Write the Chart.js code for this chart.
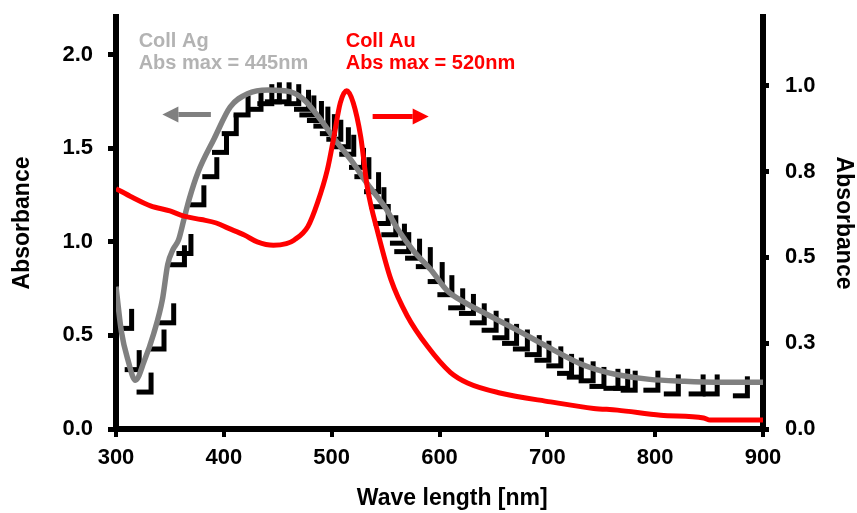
<!DOCTYPE html>
<html>
<head>
<meta charset="utf-8">
<script src="https://cdn.jsdelivr.net/npm/chart.js@4/dist/chart.umd.min.js"></script>
<style>
  body { margin: 0; background: #fff; }
  canvas { display: block; }
</style>
</head>
<body>
<canvas id="spectra" width="857" height="513"></canvas>
<script>
// Coll Ag spectrum (left axis)
const agWave = [300, 305, 311, 318, 326, 335, 343, 348, 353, 358, 363, 368, 376, 391, 406, 422, 441, 462, 474, 490, 505, 520, 533, 550, 561, 576, 592, 607, 622, 638, 668, 700, 730, 750, 765, 795, 826, 856, 900];
const agAbs = [0.76, 0.52, 0.37, 0.26, 0.36, 0.51, 0.69, 0.88, 0.96, 1.01, 1.12, 1.23, 1.37, 1.55, 1.72, 1.79, 1.81, 1.80, 1.76, 1.65, 1.53, 1.42, 1.31, 1.18, 1.07, 0.95, 0.85, 0.74, 0.68, 0.63, 0.54, 0.44, 0.35, 0.31, 0.29, 0.265, 0.255, 0.25, 0.25];

// Coll Au spectrum (right axis)
const auWave = [300, 315, 332, 350, 363, 379, 393, 404, 419, 431, 446, 458, 465, 478, 487, 496, 502, 508, 514, 520, 527, 533, 543, 555, 570, 589, 610, 626, 656, 703, 743, 765, 805, 845, 851, 900];
const auAbs = [0.70, 0.675, 0.65, 0.635, 0.62, 0.61, 0.60, 0.585, 0.565, 0.545, 0.535, 0.54, 0.55, 0.59, 0.66, 0.755, 0.85, 0.95, 0.985, 0.95, 0.85, 0.705, 0.57, 0.435, 0.33, 0.24, 0.165, 0.134, 0.105, 0.079, 0.06, 0.055, 0.04, 0.032, 0.026, 0.026];

// black measured points with error bars (left axis)
const ptWave = [314, 321, 332, 344, 353, 363, 369, 381, 393, 402, 411, 422, 434, 444, 451, 460, 469, 478, 483, 490, 496, 502, 508, 515, 520, 529, 534, 543, 548, 552, 559, 567, 571, 581, 591, 602, 611, 621, 631, 641, 652, 662, 671, 681, 692, 701, 712, 722, 731, 742, 752, 765, 774, 781, 802, 821, 844, 857, 885, 913];
const ptAbs = [0.54, 0.32, 0.20, 0.43, 0.57, 0.88, 0.94, 1.20, 1.35, 1.48, 1.58, 1.68, 1.71, 1.74, 1.75, 1.75, 1.74, 1.71, 1.68, 1.65, 1.62, 1.58, 1.55, 1.51, 1.47, 1.40, 1.35, 1.27, 1.19, 1.10, 1.04, 0.995, 0.95, 0.915, 0.87, 0.79, 0.72, 0.65, 0.62, 0.57, 0.53, 0.49, 0.46, 0.43, 0.40, 0.37, 0.34, 0.30, 0.28, 0.26, 0.23, 0.22, 0.22, 0.21, 0.21, 0.19, 0.19, 0.19, 0.18, 0.17];

const xTicks = [300, 400, 500, 600, 700, 800, 900];
const leftTicks = [0, 0.5, 1.0, 1.5, 2.0];
const rightTicks = [0, 0.25, 0.5, 0.75, 1.0];

const FONT = '"Liberation Sans", Arial, sans-serif';

// error bar mark: corner sits at the point, bar to the left, bar going up
function makeBracket() {
  const c = document.createElement('canvas');
  c.width = 30;
  c.height = 40;
  const g = c.getContext('2d');
  g.fillStyle = '#000';
  g.fillRect(13, 1, 5, 22);
  g.fillRect(1, 18, 17, 5);
  return c;
}

function arrow(ctx, x0, x1, y, color) {
  const dir = Math.sign(x1 - x0);
  const head = 16;
  ctx.strokeStyle = color;
  ctx.fillStyle = color;
  ctx.lineWidth = 5;
  ctx.beginPath();
  ctx.moveTo(x0, y);
  ctx.lineTo(x1 - dir * head, y);
  ctx.stroke();
  ctx.beginPath();
  ctx.moveTo(x1, y);
  ctx.lineTo(x1 - dir * head, y - 8);
  ctx.lineTo(x1 - dir * head, y + 8);
  ctx.closePath();
  ctx.fill();
}

const notes = {
  id: 'notes',
  afterDatasetsDraw(chart) {
    const { ctx, scales: { x, y, y1 } } = chart;
    ctx.save();
    ctx.font = 'bold 20px ' + FONT;
    ctx.textBaseline = 'middle';
    ctx.textAlign = 'left';
    ctx.fillStyle = '#b3b3b3';
    ctx.fillText('Coll Ag', x.getPixelForValue(321), y.getPixelForValue(2.07));
    ctx.fillText('Abs max = 445nm', x.getPixelForValue(321), y.getPixelForValue(1.952));
    ctx.fillStyle = '#ff0000';
    ctx.fillText('Coll Au', x.getPixelForValue(513), y.getPixelForValue(2.07));
    ctx.fillText('Abs max = 520nm', x.getPixelForValue(513), y.getPixelForValue(1.952));
    arrow(ctx, x.getPixelForValue(388), x.getPixelForValue(343), y.getPixelForValue(1.68), '#808080');
    arrow(ctx, x.getPixelForValue(538), x.getPixelForValue(590), y1.getPixelForValue(0.91), '#ff0000');
    ctx.restore();
  }
};

const toPoints = (xs, ys) => xs.map((v, i) => ({ x: v, y: ys[i] }));

// fixed axis sizes so the plot area lands where the original one is
function fitY(width) {
  return s => {
    s.width = width;
    s.paddingTop = 0;
    s.paddingBottom = 0;
  };
}

Chart.defaults.font.family = FONT;
Chart.defaults.font.weight = 'bold';
Chart.defaults.color = '#000';

new Chart(document.getElementById('spectra'), {
  type: 'line',
  data: {
    datasets: [
      {
        label: 'Coll Au',
        data: toPoints(auWave, auAbs),
        yAxisID: 'y1',
        borderColor: '#ff0000',
        borderWidth: 5,
        pointRadius: 0,
        cubicInterpolationMode: 'monotone',
        order: 1
      },
      {
        label: 'Coll Ag',
        data: toPoints(agWave, agAbs),
        yAxisID: 'y',
        borderColor: '#808080',
        borderWidth: 5.5,
        pointRadius: 0,
        cubicInterpolationMode: 'monotone',
        order: 2
      },
      {
        label: 'points',
        data: toPoints(ptWave, ptAbs),
        yAxisID: 'y',
        showLine: false,
        pointStyle: makeBracket(),
        pointRadius: 12,
        pointHoverRadius: 12,
        clip: false,
        order: 3
      }
    ]
  },
  options: {
    responsive: false,
    animation: false,
    events: [],
    layout: { padding: { top: 17 } },
    plugins: {
      legend: { display: false },
      tooltip: { enabled: false }
    },
    scales: {
      x: {
        type: 'linear',
        min: 300,
        max: 900,
        afterBuildTicks: s => { s.ticks = xTicks.map(v => ({ value: v })); },
        afterFit: s => { s.height = 84; s.paddingLeft = 0; s.paddingRight = 0; },
        border: { color: '#000', width: 6 },
        grid: { drawOnChartArea: false, color: '#000', lineWidth: 4, tickLength: 8 },
        ticks: { font: { size: 22, weight: 'bold' }, padding: 8 },
        title: {
          display: true,
          text: '\u00a0\u00a0\u00a0\u00a0Wave length [nm]',
          font: { size: 23, weight: 'bold' },
          padding: { top: 0, bottom: 1 }
        }
      },
      y: {
        position: 'left',
        min: 0,
        max: 2.2,
        afterBuildTicks: s => { s.ticks = leftTicks.map(v => ({ value: v })); },
        afterFit: fitY(116),
        border: { color: '#000', width: 6 },
        grid: { drawOnChartArea: false, color: '#000', lineWidth: 5, tickLength: 8 },
        ticks: { font: { size: 22, weight: 'bold' }, padding: 15, callback: v => v.toFixed(1) },
        title: {
          display: true,
          text: 'Absorbance',
          font: { size: 23, weight: 'bold' },
          padding: { top: 9, bottom: 0 }
        }
      },
      y1: {
        position: 'right',
        min: 0,
        max: 1.2,
        afterBuildTicks: s => { s.ticks = rightTicks.map(v => ({ value: v })); },
        afterFit: fitY(94),
        border: { color: '#000', width: 6 },
        grid: { drawOnChartArea: false, color: '#000', lineWidth: 5, tickLength: 6 },
        ticks: { font: { size: 22, weight: 'bold' }, padding: 16, callback: v => v.toFixed(1) },
        title: {
          display: true,
          text: 'Absorbance',
          font: { size: 23, weight: 'bold' },
          padding: { top: 0, bottom: 0 }
        }
      }
    }
  },
  plugins: [notes]
});
</script>
</body>
</html>
